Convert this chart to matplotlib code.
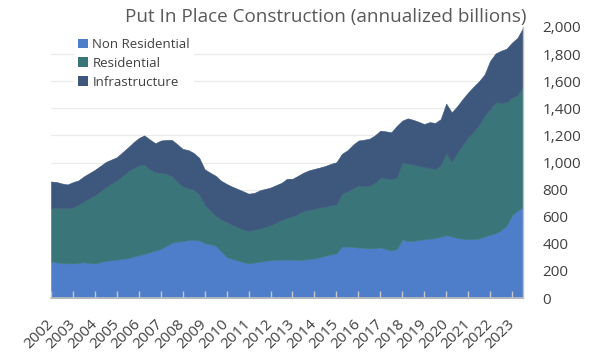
import matplotlib
matplotlib.use("Agg")
import matplotlib.pyplot as plt
from matplotlib.patches import Patch
from matplotlib.ticker import FuncFormatter
import numpy as np

plt.rcParams['font.family'] = ['Open Sans', 'DejaVu Sans']

# Quarterly readings, 2002Q1 .. 2023Q3 (annualized, $ billions)
first_year = 2002
non_residential = [
    272, 262, 258, 256, 255, 260, 264, 258, 255, 265, 274, 279,
    284, 289, 294, 305, 316, 326, 338, 350, 362, 385, 408, 417,
    419, 428, 430, 425, 405, 398, 385, 345, 302, 288, 278, 265,
    255, 262, 268, 274, 279, 282, 284, 284, 284, 280, 283, 288,
    292, 302, 312, 322, 329, 380, 380, 376, 373, 370, 366, 368,
    373, 362, 350, 360, 432, 420, 422, 428, 434, 438, 442, 452,
    463, 455, 443, 438, 434, 436, 439, 455, 466, 478, 500, 535,
    610, 645, 668,
]
residential = [
    392, 402, 406, 408, 413, 430, 451, 479, 502, 523, 546, 566,
    584, 611, 640, 653, 662, 659, 612, 580, 562, 533, 492, 443,
    405, 382, 370, 340, 285, 247, 223, 235, 260, 252, 245, 243,
    240, 243, 244, 251, 258, 276, 292, 308, 319, 340, 357, 364,
    367, 366, 362, 362, 362, 390, 408, 434, 458, 456, 462, 482,
    514, 522, 530, 530, 570, 572, 563, 548, 532, 520, 511, 528,
    607, 552, 627, 692, 752, 794, 841, 890, 929, 967, 942, 910,
    870, 852, 892,
]
infrastructure = [
    196, 192, 181, 174, 187, 178, 183, 185, 189, 187, 184, 177,
    171, 175, 176, 190, 203, 215, 220, 212, 238, 249, 267, 275,
    276, 282, 270, 270, 260, 280, 294, 285, 280, 282, 282, 280,
    275, 270, 282, 280, 278, 275, 274, 288, 277, 282, 285, 290,
    294, 295, 301, 306, 311, 294, 302, 320, 331, 342, 347, 350,
    348, 346, 343, 380, 307, 334, 330, 324, 318, 340, 339, 340,
    365, 363, 345, 338, 331, 330, 320, 305, 355, 360, 383, 395,
    405, 423, 435,
]
series_names = ["Non Residential", "Residential", "Infrastructure"]
series_colors = ["#4E7EC9", "#3A7679", "#3E577D"]
year_ticks = list(range(2002, 2024))
year_labels = [str(y) for y in year_ticks]
y_ticks = list(range(0, 2001, 200))

x = first_year + np.arange(len(non_residential)) / 4.0

fig = plt.figure(figsize=(5.97, 3.62), dpi=100)
ax = fig.add_axes([51 / 597, 1 - 298 / 362, 472 / 597, 271 / 362])

ax.stackplot(x, non_residential, residential, infrastructure,
             colors=series_colors, linewidth=0.4, edgecolor='face', zorder=1)

for v in y_ticks[1:-1]:
    ax.axhline(v, color='#EBEBEB', lw=0.9, zorder=0.5)

ax.set_xlim(2002, 2023.5)
ax.set_ylim(0, 2000)

ax.yaxis.tick_right()
ax.set_yticks(y_ticks)
ax.yaxis.set_major_formatter(FuncFormatter(lambda v, p: f"{int(v):,}"))
ax.tick_params(axis='y', length=0, pad=14, labelsize=11, labelcolor='#404040')

ax.set_xticks(year_ticks)
ax.set_xticklabels(year_labels, rotation=45, ha='right', va='center',
                   rotation_mode='anchor')
ax.tick_params(axis='x', direction='in', length=5, width=1, color='#C8C8C8',
               labelsize=11, labelcolor='#404040', pad=17)

for s in ['top', 'left']:
    ax.spines[s].set_visible(False)
ax.spines['bottom'].set_color('#BFBFBF')
ax.spines['bottom'].set_linewidth(1.2)
ax.spines['right'].set_color('#BFBFBF')
ax.spines['right'].set_linewidth(1.0)

fig.text(326 / 597, 1 - 17 / 362, "Put In Place Construction (annualized billions)",
         ha='center', va='center', fontsize=13.6, color='#595959')

handles = [Patch(facecolor=c, edgecolor='none') for c in series_colors]
leg = fig.legend(handles, series_names, loc='upper left',
                 bbox_to_anchor=(74 / 597, 1 - 34 / 362), frameon=True,
                 facecolor='white', edgecolor='none', framealpha=1,
                 fontsize=9.5, handlelength=0.75, handleheight=0.75,
                 handletextpad=0.35, labelspacing=0.45, borderpad=0.3,
                 borderaxespad=0)
for t in leg.get_texts():
    t.set_color('#404040')

fig.savefig("out.png", dpi=100)
